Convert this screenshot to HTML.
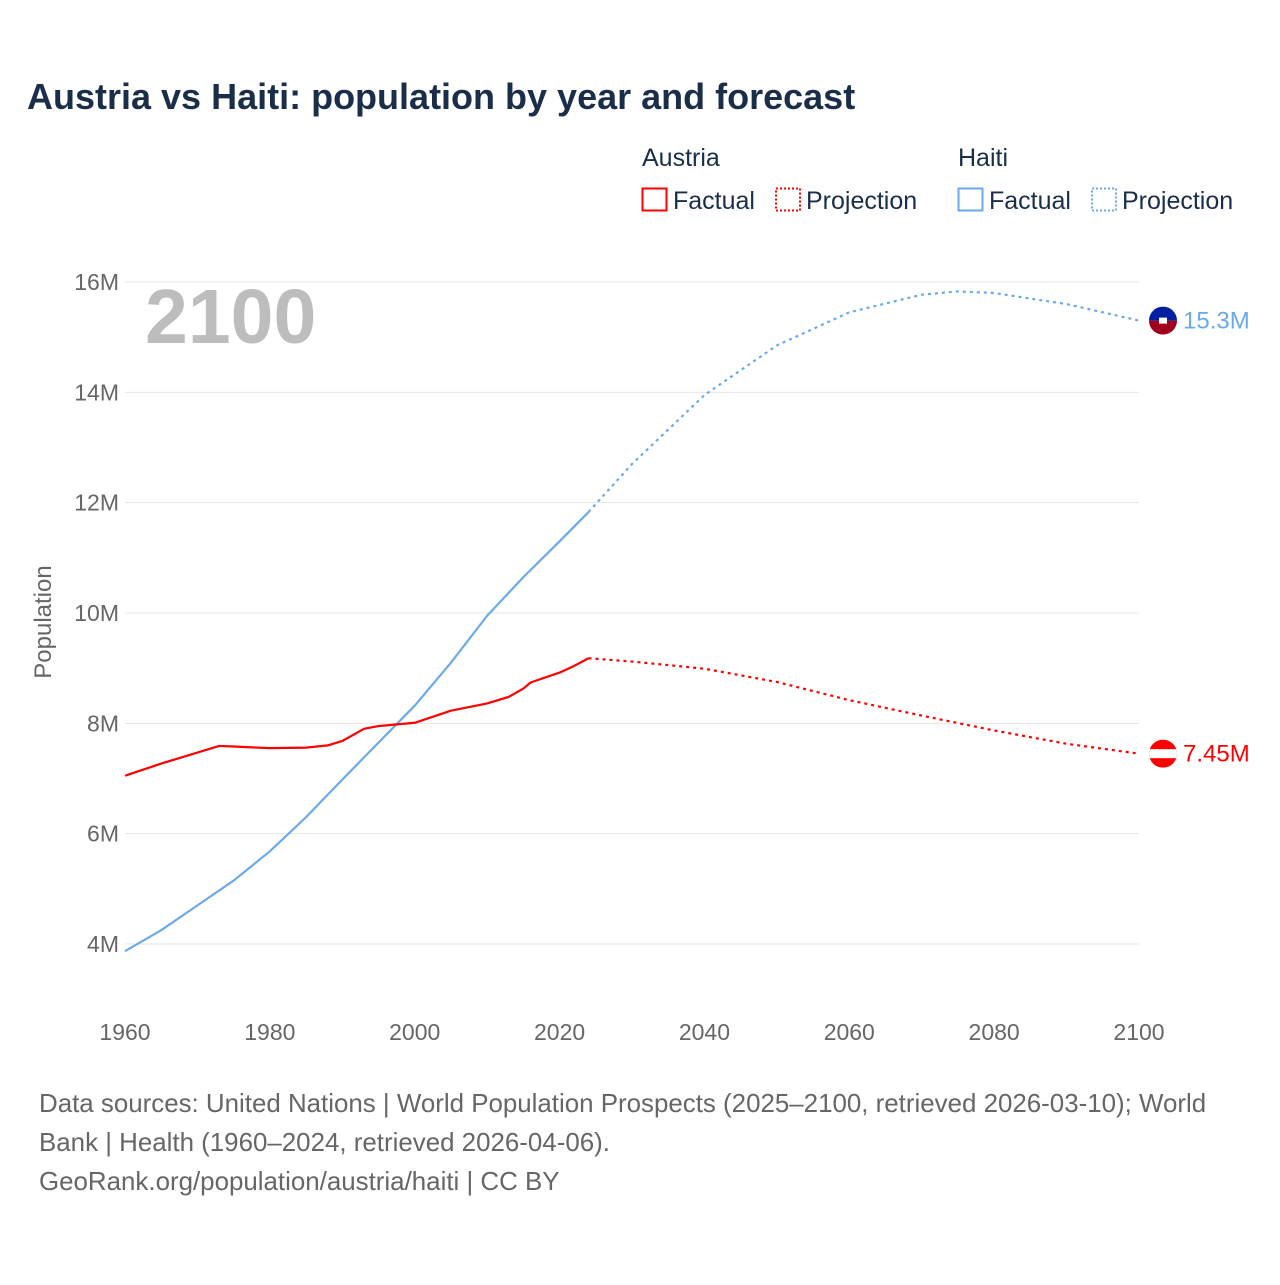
<!DOCTYPE html>
<html><head><meta charset="utf-8"><style>
body{margin:0;background:#fff;font-family:"Liberation Sans",sans-serif;}
svg text{font-family:"Liberation Sans",sans-serif;}
</style></head><body>
<svg id="chart" width="1280" height="1280" viewBox="0 0 1280 1280" xmlns="http://www.w3.org/2000/svg">
<rect width="1280" height="1280" fill="#fff"/>
<text x="27" y="109" font-size="36" font-weight="bold" fill="#1a2e4a">Austria vs Haiti: population by year and forecast</text>
<g font-size="25" fill="#1a2e4a">
<text x="642" y="166">Austria</text>
<rect x="642.5" y="188.5" width="24" height="22" fill="none" stroke="#f00" stroke-width="2"/>
<text x="673" y="209">Factual</text>
<rect x="776" y="188.5" width="24" height="22" fill="none" stroke="#f00" stroke-width="2" stroke-dasharray="2,2"/>
<text x="806" y="209">Projection</text>
<text x="958" y="166">Haiti</text>
<rect x="958.5" y="188.5" width="24" height="22" fill="none" stroke="#6aaae8" stroke-width="2"/>
<text x="989" y="209">Factual</text>
<rect x="1092" y="188.5" width="24" height="22" fill="none" stroke="#6aaae8" stroke-width="2" stroke-dasharray="2,2"/>
<text x="1122" y="209">Projection</text>
</g>
<g id="grid"></g>
<text x="145" y="343" font-size="77" font-weight="bold" fill="#bdbdbd">2100</text>
<text transform="translate(51,622) rotate(-90)" text-anchor="middle" font-size="24" fill="#666">Population</text>
<g id="series"></g>
<g font-size="25.9" fill="#666">
<text x="39" y="1112">Data sources: United Nations | World Population Prospects (2025–2100, retrieved 2026-03-10); World</text>
<text x="39" y="1151">Bank | Health (1960–2024, retrieved 2026-04-06).</text>
<text x="39" y="1190">GeoRank.org/population/austria/haiti | CC BY</text>
</g>
</svg>
<script>
const xTicks=[1960,1980,2000,2020,2040,2060,2080,2100];
const yTicks=[4,6,8,10,12,14,16];
const yTickLabels=["4M","6M","8M","10M","12M","14M","16M"];
const austriaYears=[1960,1965,1970,1973,1975,1980,1985,1988,1990,1993,1995,2000,2005,2010,2013,2015,2016,2020,2022,2024];
const austriaValues=[7.05,7.27,7.47,7.59,7.58,7.55,7.56,7.60,7.68,7.90,7.95,8.01,8.23,8.36,8.48,8.63,8.74,8.92,9.04,9.18];
const austriaProjYears=[2024,2030,2040,2050,2060,2070,2080,2090,2100];
const austriaProjValues=[9.18,9.12,8.99,8.75,8.42,8.14,7.87,7.63,7.45];
const haitiYears=[1960,1965,1970,1975,1980,1985,1990,1995,2000,2005,2010,2015,2020,2024];
const haitiValues=[3.87,4.25,4.7,5.15,5.68,6.3,6.98,7.65,8.32,9.1,9.95,10.65,11.3,11.83];
const haitiProjYears=[2024,2030,2040,2050,2060,2070,2075,2080,2090,2100];
const haitiProjValues=[11.83,12.7,13.95,14.85,15.45,15.77,15.83,15.8,15.6,15.3];
const NS="http://www.w3.org/2000/svg";
const x=y=>125+(y-1960)*(1014/140);
const yv=v=>944-(v-4)*(662/12);
function mk(tag,attrs,parent){const e=document.createElementNS(NS,tag);for(const k in attrs)e.setAttribute(k,attrs[k]);parent.appendChild(e);return e;}
const grid=document.getElementById('grid');
yTicks.forEach((t,i)=>{
 const l=mk('line',{x1:125,x2:1139,y1:yv(t),y2:yv(t),stroke:'#e6e6e6','stroke-width':1},grid);
 
 
 const tx=mk('text',{x:119,y:yv(t)+8,'text-anchor':'end','font-size':23,fill:'#666'},grid);
 tx.textContent=yTickLabels[i];
 
 
});
xTicks.forEach(t=>{
 const tx=mk('text',{x:x(t),y:1040,'text-anchor':'middle','font-size':23,fill:'#666'},grid);
 tx.textContent=t;
 
 
});
const s=document.getElementById('series');
function line(years,vals,color,dash,name){
 const p=mk('polyline',{points:years.map((yy,i)=>x(yy)+','+yv(vals[i])).join(' '),fill:'none',stroke:color,'stroke-width':2.2,'stroke-linejoin':'round'},s);
 if(dash)p.setAttribute('stroke-dasharray','3,4');
 
 
}
line(haitiYears,haitiValues,'#6aaae8',false,'haiti-factual-line');
line(haitiProjYears,haitiProjValues,'#6aaae8',true,'haiti-projection-line');
line(austriaYears,austriaValues,'#f00',false,'austria-factual-line');
line(austriaProjYears,austriaProjValues,'#f00',true,'austria-projection-line');
const hv=haitiProjValues[haitiProjValues.length-1], av=austriaProjValues[austriaProjValues.length-1];
const hy=yv(hv), ay=yv(av);
mk('defs',{},s).innerHTML='<clipPath id="ch"><circle cx="1163" cy="'+hy+'" r="14"/></clipPath><clipPath id="ca"><circle cx="1163" cy="'+ay+'" r="14"/></clipPath>';
const hf=mk('g',{'clip-path':'url(#ch)'},s);


mk('rect',{x:1149,y:hy-14,width:28,height:14,fill:'#00209f'},hf);
mk('rect',{x:1149,y:hy,width:28,height:14,fill:'#a0001c'},hf);
mk('rect',{x:1159,y:hy-3,width:8,height:6,fill:'#fff'},hf);
const af=mk('g',{'clip-path':'url(#ca)'},s);


mk('rect',{x:1149,y:ay-14,width:28,height:28,fill:'#f00'},af);
mk('rect',{x:1149,y:ay-4.5,width:28,height:9,fill:'#fff'},af);
const ht=mk('text',{x:1183,y:hy+8,'font-size':24,fill:'#6aaae8'},s);
ht.textContent=hv+'M';


const at=mk('text',{x:1183,y:ay+8,'font-size':24,fill:'#f00'},s);
at.textContent=av+'M';


</script>
</body></html>
